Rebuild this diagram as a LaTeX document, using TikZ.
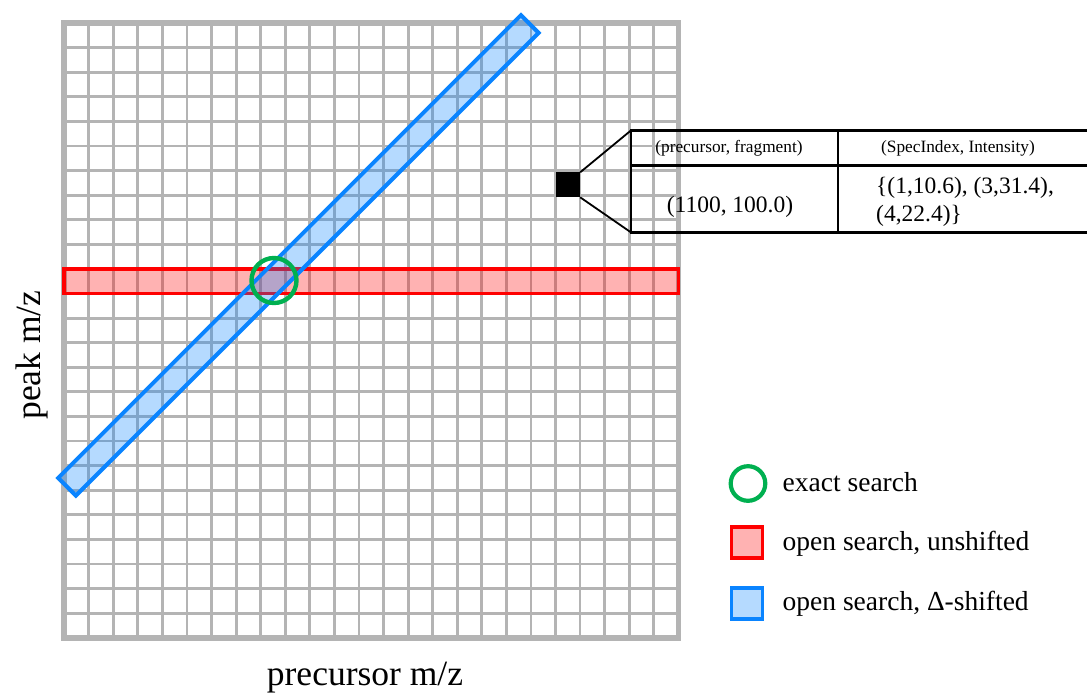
\documentclass[tikz,border=0pt]{standalone}
\usepackage{fontspec}
\setmainfont{Liberation Serif}
\definecolor{gridgray}{RGB}{180,180,180}
\definecolor{bandred}{RGB}{255,0,0}
\definecolor{bandblue}{RGB}{10,132,255}
\definecolor{exactgreen}{RGB}{0,176,80}
\tikzset{
  gridline/.style={draw=gridgray, line width=2.8pt},
  gridframe/.style={draw=gridgray, line width=5.5pt},
  redband/.style={draw=bandred, line width=3.6pt, fill=bandred, fill opacity=0.3, draw opacity=1},
  blueband/.style={draw=bandblue, line width=4pt, fill=bandblue, fill opacity=0.3, draw opacity=1},
  exactring/.style={draw=exactgreen, line width=4.4pt},
  tableline/.style={draw=black, line width=2.6pt},
  axislabel/.style={font=\fontsize{35.5}{40}\selectfont, inner sep=0pt},
  legendtext/.style={font=\fontsize{27.5}{32}\selectfont, inner sep=0pt, anchor=base west},
  headtext/.style={font=\fontsize{17.3}{20}\selectfont, inner sep=0pt},
  celltext/.style={font=\fontsize{23.5}{28}\selectfont, inner sep=0pt},
}
\begin{document}
\begin{tikzpicture}[x=1pt, y=-1pt]
\useasboundingbox (0,0) rectangle (1087,694);

% ---- grid of bins (25 x 25) ----
\foreach \i in {1,...,24} {
  \draw[gridline] ({64.2+\i*24.564},23) -- ({64.2+\i*24.564},637.8);
  \draw[gridline] (64.2,{23+\i*24.592}) -- (678.3,{23+\i*24.592});
}
\draw[gridframe] (64.2,23) rectangle (678.3,637.8);

% ---- unshifted open search: one fragment row ----
\draw[redband] (64.2,268.9) rectangle (678.3,293.5);

% ---- Delta-shifted open search: diagonal band ----
\begin{scope}[shift={(298.35,255.4)}, rotate=45]
  \draw[blueband] (-327.2,-12.5) rectangle (327.2,12.5);
\end{scope}

% ---- exact search ----
\draw[exactring] (274,280.5) circle[radius=22.5];

% ---- one bin and its contents ----
\fill[black] (556,172.3) rectangle (580.2,197.3);
\coordinate (binTR) at (580.2,172.3);
\coordinate (binBR) at (580.2,197.3);
\coordinate (tabTL) at (631,130.4);
\coordinate (tabBL) at (631,232.4);
\draw[tableline, line width=1.8pt] (binTR) -- (tabTL);
\draw[tableline, line width=1.8pt] (binBR) -- (tabBL);

\draw[tableline] (1100,130.4) -- (tabTL) -- (tabBL) -- (1100,232.4);
\draw[tableline] (631,165.7) -- (1100,165.7);
\draw[tableline] (838,130.4) -- (838,232.4);

\node[headtext] (h1) at (729,148) {(precursor, fragment)};
\node[headtext] (h2) at (958,148) {(SpecIndex, Intensity)};
\node[celltext, anchor=base] (c1) at (730,212.3) {(1100, 100.0)};
\node[celltext, anchor=base west] (c2a) at (876,193.3) {\{(1,10.6), (3,31.4),};
\node[celltext, anchor=base west] (c2b) at (876,221.7) {(4,22.4)\}};

% ---- axis labels ----
\node[axislabel, anchor=base] (xlab) at (365,685) {precursor m/z};
\node[axislabel, anchor=base, rotate=90] (ylab) at (40,355) {peak m/z};

% ---- legend ----
\draw[exactring, line width=4.2pt] (748,483.5) circle[radius=17.3];
\draw[draw=bandred, line width=3.6pt, fill=bandred!30] (731.5,527) rectangle (762.5,558);
\draw[draw=bandblue, line width=3.6pt, fill=bandblue!30] (731.5,588) rectangle (762.5,619);
\node[legendtext] (l1) at (782.5,491.7) {exact search};
\node[legendtext] (l2) at (782.5,550) {open search, unshifted};
\node[legendtext] (l3) at (782.5,610) {open search, Δ-shifted};
\end{tikzpicture}
\end{document}
